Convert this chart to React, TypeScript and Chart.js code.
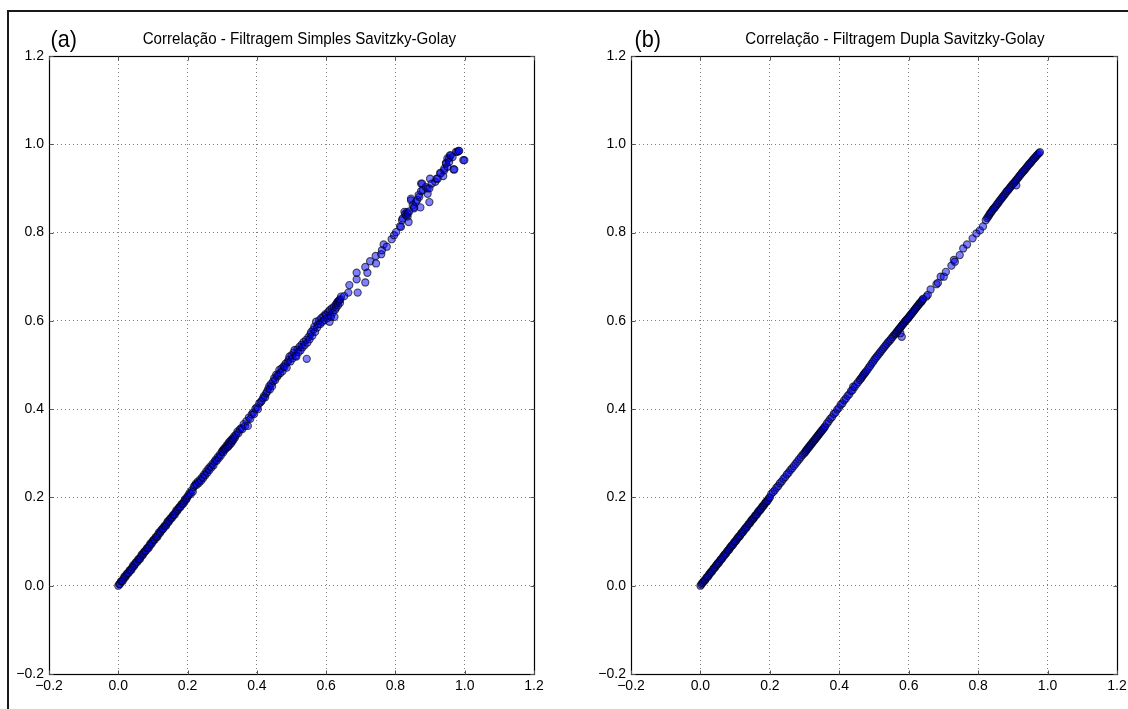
import React, { useEffect, useRef } from "react";
import { Chart, registerables } from "chart.js";

Chart.register(...registerables);

const tickValues = [-0.2, 0, 0.2, 0.4, 0.6, 0.8, 1.0, 1.2];
const tickLabels = ["\u22120.2", "0.0", "0.2", "0.4", "0.6", "0.8", "1.0", "1.2"];
const panelTitles = [
  "Correlação - Filtragem Simples Savitzky-Golay",
  "Correlação - Filtragem Dupla Savitzky-Golay",
];
const panelLetters = ["(a)", "(b)"];

// (a) Filtragem simples: [x, y]
const simplesPontos: number[][] = [
  [0.000,0.000],[0.003,0.004],[0.005,0.004],[0.008,0.010],[0.010,0.010],[0.013,0.011],[0.015,0.016],[0.018,0.021],[0.020,0.019],[0.023,0.023],
  [0.025,0.027],[0.028,0.029],[0.030,0.029],[0.033,0.035],[0.035,0.035],[0.038,0.036],[0.040,0.041],[0.043,0.046],[0.045,0.044],[0.048,0.048],
  [0.050,0.052],[0.053,0.054],[0.055,0.054],[0.058,0.060],[0.060,0.060],[0.063,0.061],[0.065,0.066],[0.068,0.071],[0.070,0.069],[0.073,0.073],
  [0.075,0.077],[0.078,0.079],[0.080,0.079],[0.083,0.085],[0.085,0.085],[0.088,0.086],[0.090,0.091],[0.093,0.096],[0.095,0.094],[0.098,0.098],
  [0.100,0.102],[0.103,0.104],[0.105,0.104],[0.108,0.110],[0.110,0.110],[0.113,0.111],[0.115,0.116],[0.118,0.121],[0.120,0.119],[0.123,0.123],
  [0.125,0.127],[0.128,0.129],[0.130,0.129],[0.133,0.135],[0.135,0.135],[0.138,0.136],[0.140,0.141],[0.143,0.146],[0.145,0.144],[0.148,0.148],
  [0.150,0.152],[0.153,0.154],[0.155,0.154],[0.158,0.160],[0.160,0.160],[0.163,0.161],[0.165,0.166],[0.168,0.171],[0.170,0.169],[0.173,0.173],
  [0.175,0.177],[0.178,0.179],[0.180,0.179],[0.183,0.185],[0.185,0.185],[0.188,0.186],[0.190,0.191],[0.193,0.196],[0.195,0.194],[0.198,0.198],
  [0.200,0.202],
  [0.203,0.205],[0.206,0.210],[0.209,0.208],[0.212,0.216],[0.215,0.213],[0.218,0.224],[0.221,0.227],[0.224,0.231],[0.227,0.229],[0.230,0.236],
  [0.233,0.233],[0.236,0.240],[0.239,0.238],[0.242,0.246],[0.245,0.244],[0.248,0.252],[0.251,0.250],[0.254,0.259],[0.257,0.256],[0.260,0.265],
  [0.263,0.262],[0.266,0.270],[0.269,0.268],[0.272,0.276],[0.275,0.273],[0.278,0.281],[0.281,0.285],[0.284,0.283],[0.287,0.291],[0.290,0.289],
  [0.293,0.297],[0.296,0.295],[0.299,0.303],
  [0.301,0.306],[0.303,0.302],[0.305,0.310],[0.307,0.308],[0.309,0.313],[0.311,0.311],[0.313,0.318],[0.315,0.314],[0.317,0.321],[0.318,0.316],
  [0.320,0.325],[0.322,0.320],[0.324,0.328],[0.326,0.323],[0.327,0.331],[0.329,0.327],[0.331,0.334],[0.333,0.331],[0.335,0.339],[0.337,0.336],
  [0.340,0.342],[0.344,0.349],[0.347,0.346],[0.351,0.354],[0.355,0.357],[0.358,0.355],[0.362,0.366],[0.366,0.362],[0.370,0.373],[0.374,0.362],
  [0.377,0.381],[0.381,0.378],[0.385,0.388],[0.389,0.392],[0.392,0.389],[0.396,0.401],[0.400,0.404],[0.403,0.400],[0.407,0.413],[0.411,0.416],
  [0.414,0.419],[0.418,0.425],[0.421,0.430],[0.424,0.427],[0.427,0.436],[0.430,0.440],[0.433,0.446],[0.436,0.452],[0.438,0.445],[0.441,0.457],
  [0.444,0.452],[0.447,0.463],[0.450,0.470],[0.453,0.466],[0.456,0.478],[0.459,0.474],
  [0.462,0.478],[0.465,0.489],[0.468,0.482],[0.471,0.492],[0.474,0.486],[0.477,0.497],[0.480,0.496],[0.483,0.503],[0.486,0.494],[0.489,0.507],
  [0.492,0.512],[0.494,0.519],[0.497,0.508],[0.500,0.522],[0.503,0.515],[0.506,0.528],[0.509,0.534],[0.512,0.521],[0.514,0.519],[0.517,0.535],
  [0.520,0.529],[0.523,0.541],[0.526,0.533],[0.529,0.546],[0.532,0.540],[0.535,0.552],[0.538,0.545],[0.542,0.557],[0.544,0.514],[0.546,0.551],
  [0.549,0.563],[0.552,0.558],[0.555,0.570],[0.557,0.575],[0.560,0.566],[0.563,0.580],[0.566,0.587],[0.568,0.575],[0.571,0.598],[0.574,0.585],
  [0.577,0.592],[0.580,0.601],[0.583,0.593],[0.586,0.606],[0.589,0.598],[0.592,0.610],[0.595,0.602],[0.598,0.615],[0.600,0.613],[0.603,0.606],
  [0.606,0.620],[0.610,0.598],[0.610,0.624],[0.612,0.612],[0.614,0.609],[0.616,0.628],[0.619,0.619],[0.622,0.631],[0.624,0.609],[0.626,0.625],
  [0.627,0.636],[0.629,0.630],[0.631,0.640],[0.633,0.643],[0.634,0.635],[0.636,0.645],[0.638,0.647],[0.640,0.641],[0.641,0.649],[0.643,0.655],
  [0.652,0.656],[0.664,0.664],[0.667,0.681],[0.688,0.694],[0.691,0.664],[0.688,0.709],[0.713,0.722],[0.713,0.687],[0.719,0.709],[0.727,0.735],
  [0.744,0.730],[0.743,0.747],[0.759,0.751],[0.761,0.760],[0.766,0.773],[0.775,0.768],[0.789,0.785],[0.796,0.794],[0.802,0.801],[0.813,0.814],
  [0.816,0.813],[0.819,0.828],[0.821,0.832],[0.826,0.847],[0.828,0.842],[0.831,0.839],[0.833,0.846],[0.835,0.836],[0.836,0.843],[0.838,0.824],
  [0.840,0.848],[0.845,0.877],[0.845,0.873],[0.850,0.862],[0.854,0.858],[0.854,0.855],[0.859,0.869],[0.863,0.874],[0.867,0.885],[0.869,0.881],
  [0.872,0.857],[0.874,0.894],[0.874,0.911],[0.877,0.911],[0.879,0.896],[0.888,0.903],[0.893,0.888],[0.893,0.900],[0.898,0.869],[0.898,0.900],
  [0.900,0.922],[0.905,0.911],[0.915,0.915],[0.919,0.922],[0.922,0.922],[0.929,0.935],[0.931,0.934],[0.938,0.928],[0.941,0.945],[0.941,0.941],
  [0.946,0.958],[0.946,0.956],[0.950,0.949],[0.950,0.968],[0.955,0.968],[0.955,0.960],[0.957,0.975],[0.960,0.975],[0.965,0.971],[0.968,0.943],
  [0.970,0.943],[0.975,0.983],[0.979,0.983],[0.982,0.985],[0.984,0.985],[0.996,0.964],[0.999,0.964],
];

// (b) Filtragem dupla: [x, y]
const duplaPontos: number[][] = [
  [0.000,0.000],[0.003,0.003],[0.005,0.006],[0.008,0.008],[0.010,0.011],[0.013,0.012],[0.015,0.015],[0.018,0.019],[0.020,0.020],[0.023,0.022],
  [0.025,0.026],[0.028,0.028],[0.030,0.031],[0.033,0.032],[0.035,0.035],[0.038,0.039],[0.040,0.040],[0.043,0.042],[0.045,0.046],[0.048,0.048],
  [0.050,0.051],[0.053,0.052],[0.055,0.055],[0.058,0.059],[0.060,0.060],[0.063,0.062],[0.065,0.066],[0.068,0.068],[0.070,0.071],[0.073,0.072],
  [0.075,0.075],[0.078,0.079],[0.080,0.080],[0.083,0.082],[0.085,0.086],[0.088,0.088],[0.090,0.091],[0.093,0.092],[0.095,0.095],[0.098,0.099],
  [0.100,0.100],[0.103,0.102],[0.105,0.106],[0.108,0.108],[0.110,0.111],[0.113,0.112],[0.115,0.115],[0.118,0.119],[0.120,0.120],[0.123,0.122],
  [0.125,0.126],[0.128,0.128],[0.130,0.131],[0.133,0.132],[0.135,0.135],[0.138,0.139],[0.140,0.140],[0.143,0.142],[0.145,0.146],[0.148,0.148],
  [0.150,0.151],[0.153,0.152],[0.155,0.155],[0.158,0.159],[0.160,0.160],[0.163,0.162],[0.165,0.166],[0.168,0.168],[0.170,0.171],[0.173,0.172],
  [0.175,0.175],[0.178,0.179],[0.180,0.180],[0.183,0.182],[0.185,0.186],[0.188,0.188],[0.190,0.191],[0.193,0.192],[0.195,0.195],[0.198,0.199],
  [0.200,0.200],
  [0.204,0.208],[0.209,0.212],[0.214,0.216],[0.219,0.222],[0.224,0.226],[0.229,0.232],[0.234,0.236],[0.239,0.242],[0.244,0.246],[0.249,0.252],
  [0.254,0.256],[0.259,0.262],[0.264,0.266],[0.269,0.271],[0.274,0.276],[0.279,0.281],[0.284,0.286],[0.289,0.291],[0.294,0.296],[0.299,0.300],
  [0.302,0.303],[0.304,0.306],[0.307,0.308],[0.309,0.311],[0.312,0.313],[0.314,0.316],[0.317,0.318],[0.319,0.321],[0.322,0.323],[0.324,0.326],
  [0.327,0.328],[0.329,0.331],[0.332,0.333],[0.334,0.336],[0.337,0.338],[0.339,0.341],[0.342,0.343],[0.344,0.346],[0.347,0.348],[0.349,0.351],
  [0.352,0.353],[0.354,0.356],[0.357,0.358],[0.359,0.361],
  [0.364,0.367],[0.369,0.372],[0.374,0.378],[0.379,0.382],[0.384,0.389],[0.389,0.392],[0.394,0.399],[0.399,0.403],[0.404,0.410],[0.409,0.413],
  [0.414,0.420],[0.419,0.424],[0.424,0.430],[0.429,0.434],[0.434,0.441],[0.440,0.451],[0.438,0.443],[0.444,0.450],[0.449,0.456],[0.454,0.461],
  [0.459,0.466],
  [0.462,0.469],[0.465,0.472],[0.468,0.476],[0.471,0.479],[0.474,0.482],[0.477,0.485],[0.481,0.489],[0.485,0.494],[0.489,0.498],[0.493,0.503],
  [0.497,0.507],[0.501,0.512],[0.505,0.516],[0.509,0.520],[0.513,0.524],[0.517,0.528],[0.521,0.532],[0.525,0.536],[0.529,0.540],[0.533,0.544],
  [0.537,0.548],[0.541,0.552],[0.545,0.555],[0.549,0.559],[0.553,0.563],[0.557,0.567],[0.561,0.570],[0.580,0.564],[0.576,0.572],
  [0.563,0.572],[0.566,0.575],[0.568,0.577],[0.571,0.580],[0.573,0.582],[0.576,0.585],[0.578,0.587],[0.581,0.590],[0.583,0.592],[0.586,0.595],
  [0.588,0.597],[0.591,0.600],[0.593,0.602],[0.596,0.604],[0.598,0.606],[0.601,0.609],[0.603,0.611],[0.606,0.614],[0.608,0.616],[0.611,0.619],
  [0.613,0.621],[0.616,0.624],[0.618,0.626],[0.621,0.629],[0.623,0.631],[0.626,0.634],[0.628,0.636],[0.631,0.639],[0.633,0.641],[0.636,0.643],
  [0.638,0.645],[0.640,0.648],[0.642,0.650],
  [0.651,0.655],[0.655,0.659],[0.663,0.671],[0.680,0.683],[0.684,0.686],[0.692,0.700],[0.701,0.700],[0.707,0.711],[0.723,0.725],[0.730,0.738],
  [0.733,0.734],[0.747,0.749],[0.757,0.764],[0.768,0.773],[0.784,0.787],[0.795,0.798],[0.805,0.805],[0.814,0.814],[0.822,0.828],
  [0.826,0.833],[0.829,0.836],[0.832,0.840],[0.834,0.843],[0.837,0.846],[0.840,0.849],[0.843,0.853],[0.846,0.855],[0.849,0.858],[0.852,0.861],
  [0.855,0.865],[0.858,0.867],[0.861,0.871],[0.864,0.874],[0.867,0.877],[0.870,0.880],[0.873,0.883],[0.876,0.886],[0.879,0.889],[0.882,0.893],
  [0.885,0.895],[0.888,0.898],[0.891,0.901],[0.894,0.904],[0.897,0.907],[0.900,0.910],[0.903,0.912],[0.906,0.915],[0.910,0.907],[0.909,0.918],
  [0.912,0.921],[0.915,0.924],[0.918,0.927],[0.921,0.930],[0.924,0.933],[0.927,0.936],[0.930,0.939],[0.933,0.941],[0.936,0.944],[0.939,0.947],
  [0.942,0.950],[0.945,0.953],[0.948,0.956],[0.951,0.958],[0.954,0.961],[0.957,0.964],[0.960,0.967],[0.963,0.969],[0.966,0.972],[0.969,0.975],
  [0.972,0.977],[0.975,0.980],[0.978,0.982],
];

const FONT = '"Liberation Sans", Arial, sans-serif';
const CW = 574;
const CH = 709;
const AREA_TOP = 56;
const AREA_BOTTOM = 674;

const framePlugin = {
  id: "mplFrame",
  afterDraw(chart: any, _args: any, opts: any) {
    const { ctx, chartArea: a, scales } = chart;
    ctx.save();
    ctx.strokeStyle = "#000";
    ctx.lineWidth = 1.2;
    const L = Math.round(a.left) + 0.5;
    const R = Math.round(a.right) + 0.5;
    const T = Math.round(a.top) + 0.5;
    const B = Math.round(a.bottom) + 0.5;
    ctx.strokeRect(L, T, R - L, B - T);
    ctx.strokeStyle = "#555";
    ctx.lineWidth = 1;
    ctx.beginPath();
    for (const v of tickValues) {
      const px = Math.round(scales.x.getPixelForValue(v)) + 0.5;
      ctx.moveTo(px, B); ctx.lineTo(px, B - 4);
      ctx.moveTo(px, T); ctx.lineTo(px, T + 4);
      const py = Math.round(scales.y.getPixelForValue(v)) + 0.5;
      ctx.moveTo(L, py); ctx.lineTo(L + 4, py);
      ctx.moveTo(R, py); ctx.lineTo(R - 4, py);
    }
    ctx.stroke();
    ctx.fillStyle = "#000";
    ctx.textBaseline = "alphabetic";
    ctx.textAlign = "left";
    ctx.save();
    ctx.translate(opts.titleX, 43.5);
    ctx.scale(0.945, 1);
    ctx.font = `16px ${FONT}`;
    ctx.fillText(opts.title, 0, 0);
    ctx.restore();
    ctx.save();
    ctx.translate(opts.letterX, 47);
    ctx.scale(0.9, 1);
    ctx.font = `24px ${FONT}`;
    ctx.fillText(opts.letter, 0, 0);
    ctx.restore();
    ctx.restore();
  },
};

function Panel(props: {
  pts: number[][];
  title: string;
  letter: string;
  left: number;
  areaLeft: number;
  areaRight: number;
  titleX: number;
  letterX: number;
}) {
  const ref = useRef<HTMLCanvasElement>(null);
  useEffect(() => {
    const tickFont = { family: FONT, size: 14 };
    const chart = new Chart(ref.current as HTMLCanvasElement, {
      type: "scatter",
      data: {
        datasets: [
          {
            data: props.pts.map(([x, y]) => ({ x, y })),
            backgroundColor: "rgba(0,0,255,0.5)",
            borderColor: "rgba(0,0,0,0.65)",
            borderWidth: 1.1,
            pointRadius: 3.6,
          },
        ],
      },
      options: {
        animation: false,
        responsive: false,
        devicePixelRatio: 1,
        events: [],
        layout: { padding: { top: AREA_TOP, right: CW - props.areaRight, bottom: 0, left: 0 } },
        plugins: {
          legend: { display: false },
          tooltip: { enabled: false },
          title: { display: false },
          mplFrame: {
            title: props.title,
            letter: props.letter,
            titleX: props.titleX,
            letterX: props.letterX,
          },
        } as any,
        scales: {
          x: {
            type: "linear",
            min: -0.2,
            max: 1.2,
            afterBuildTicks: (s: any) => {
              s.ticks = tickValues.map((v) => ({ value: v }));
            },
            afterFit: (s: any) => {
              s.height = CH - AREA_BOTTOM;
            },
            ticks: {
              callback: (_v: any, i: number) => tickLabels[i],
              font: tickFont,
              color: "#000",
              padding: 4,
              maxRotation: 0,
              autoSkip: false,
            },
            grid: { color: "rgba(0,0,0,0.5)", lineWidth: 1, drawTicks: false },
            border: { display: false, dash: [1, 3] },
          },
          y: {
            type: "linear",
            min: -0.2,
            max: 1.2,
            afterBuildTicks: (s: any) => {
              s.ticks = tickValues.map((v) => ({ value: v }));
            },
            afterFit: (s: any) => {
              s.width = props.areaLeft;
            },
            ticks: {
              callback: (_v: any, i: number) => tickLabels[i],
              font: tickFont,
              color: "#000",
              padding: 5,
              autoSkip: false,
            },
            grid: { color: "rgba(0,0,0,0.5)", lineWidth: 1, drawTicks: false },
            border: { display: false, dash: [1, 3] },
          },
        },
      } as any,
      plugins: [framePlugin],
    });
    return () => chart.destroy();
  }, []);
  return (
    <canvas
      ref={ref}
      width={CW}
      height={CH}
      style={{ position: "absolute", left: props.left, top: 0, width: CW, height: CH }}
    />
  );
}

export default function App() {
  return (
    <div
      style={{
        position: "absolute",
        left: 0,
        top: 0,
        width: 1128,
        height: 709,
        overflow: "hidden",
        background: "#fff",
      }}
    >
      <div
        style={{
          position: "absolute",
          left: 7,
          top: 10,
          width: 1200,
          height: 800,
          borderLeft: "2px solid #1a1a1a",
          borderTop: "2px solid #1a1a1a",
        }}
      />
      <Panel
        pts={simplesPontos}
        title={panelTitles[0]}
        letter={panelLetters[0]}
        left={0}
        areaLeft={49}
        areaRight={534}
        titleX={142.7}
        letterX={50.5}
      />
      <Panel
        pts={duplaPontos}
        title={panelTitles[1]}
        letter={panelLetters[1]}
        left={564}
        areaLeft={67}
        areaRight={553}
        titleX={181.3}
        letterX={70.5}
      />
    </div>
  );
}
